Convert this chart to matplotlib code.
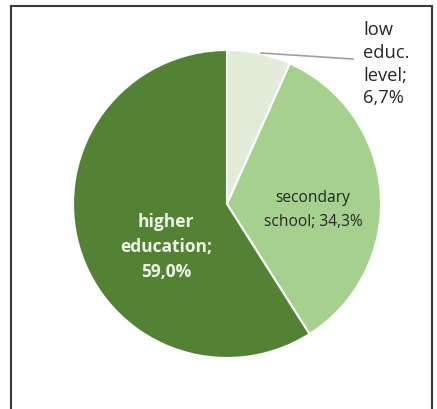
import matplotlib.pyplot as plt
from matplotlib.patches import Rectangle

labels = ['low\neduc.\nlevel;\n6,7%', 'secondary\nschool; 34,3%', 'higher\neducation;\n59,0%']
shares = [6.7, 34.3, 59.0]
colors = ['#e2ecd9', '#a6d08e', '#548235']

W, H = 437, 410
fig = plt.figure(figsize=(W / 100, H / 100), dpi=100)
ax = fig.add_axes([0, 0, 1, 1])

cx, cy, r = 227, 205, 154
ax.pie(shares, colors=colors, startangle=90, counterclock=False,
       center=(cx, cy), radius=r, frame=True,
       wedgeprops=dict(edgecolor='white', linewidth=1.5))
ax.set_xlim(0, W)
ax.set_ylim(0, H)
ax.set_aspect('equal')
ax.axis('off')

# chart border
ax.add_patch(Rectangle((11, -5), 421, 408, fill=False, edgecolor='#3a3a3a', linewidth=1.5))

font = 'Open Sans'
ax.text(363, 389, labels[0], ha='left', va='top', fontsize=13.2, family=font,
        color='#262626', linespacing=1.34)
ax.plot([261, 353], [356, 350], color='#a0a0a0', linewidth=1.2)
ax.text(313, 200, labels[1], ha='center', va='center', fontsize=11.2, family=font,
        color='#262626', linespacing=1.7)
ax.text(166, 163, labels[2], ha='center', va='center', fontsize=12.5, family=font,
        fontweight='bold', color='#eef3e8', linespacing=1.5)

fig.savefig('out.png', dpi=100)
